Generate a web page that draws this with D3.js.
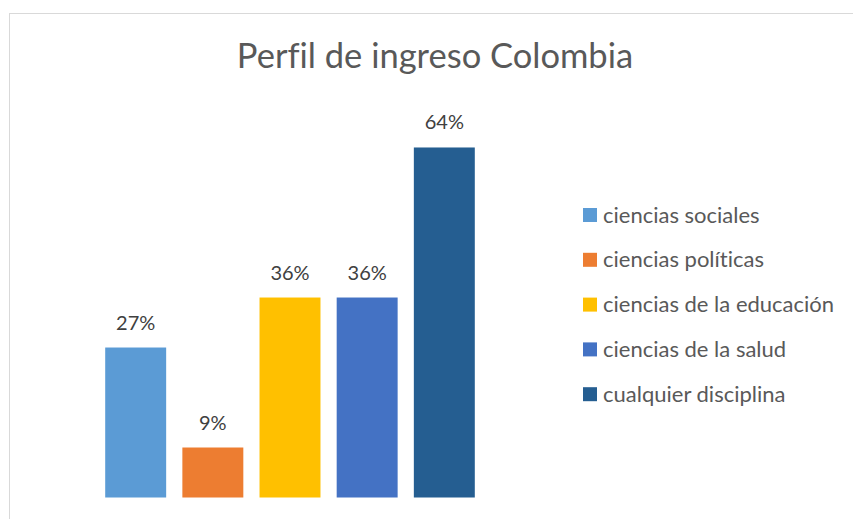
<!DOCTYPE html>
<html>
<head>
<meta charset="utf-8">
<script src="https://cdn.jsdelivr.net/npm/d3@7"></script>
<style>
  html, body { margin: 0; padding: 0; background: #fff; }
  svg { display: block; font-family: Lato, "Open Sans", sans-serif; font-variant-ligatures: none; }
</style>
</head>
<body>
<div id="chart"></div>
<script>
// Data
const categories = ["ciencias sociales", "ciencias políticas", "ciencias de la educación", "ciencias de la salud", "cualquier disciplina"];
const values = [0.2727, 0.0909, 0.3636, 0.3636, 0.6364];
const colors = ["#5B9BD5", "#ED7D31", "#FFC000", "#4472C4", "#255E91"];
const title = "Perfil de ingreso Colombia";

const data = categories.map((c, i) => ({cat: c, value: values[i], color: colors[i]}));

const width = 853, height = 519;

const svg = d3.select("#chart")
  .append("svg").attr("width", width).attr("height", height);

// chart border
svg.append("rect")
  .attr("x", 9.5).attr("y", 13.5)
  .attr("width", 900).attr("height", 600)
  .attr("fill", "#fff")
  .attr("stroke", "#d9d9d9")
  .attr("stroke-width", 1);

// title
svg.append("text")
  .attr("x", 435)
  .attr("y", 68)
  .attr("text-anchor", "middle")
  .attr("font-size", 34.5)
  .attr("fill", "#595959")
  .text(title);

const x = d3.scaleBand()
  .domain(categories)
  .range([89, 491])
  .paddingInner(0.21)
  .paddingOuter(0.21);

const y = d3.scaleLinear()
  .domain([0, 0.7])
  .range([497.5, 112.5]);

svg.selectAll("rect.bar")
  .data(data)
  .join("rect")
  .attr("class", "bar")
  .attr("x", d => x(d.cat))
  .attr("y", d => y(d.value))
  .attr("width", x.bandwidth())
  .attr("height", d => y(0) - y(d.value))
  .attr("fill", d => d.color);

const fmt = d3.format(".0%");

svg.selectAll("text.label")
  .data(data)
  .join("text")
  .attr("class", "label")
  .attr("x", d => x(d.cat) + x.bandwidth() / 2)
  .attr("y", d => y(d.value) - 18)
  .attr("text-anchor", "middle")
  .attr("font-size", 20)
  .attr("fill", "#404040")
  .text(d => fmt(d.value));

// legend
const legend = svg.append("g")
  .attr("transform", "translate(583, 215)");

const item = legend.selectAll("g")
  .data(data)
  .join("g")
  .attr("transform", (d, i) => `translate(0, ${i * 44.8})`);

item.append("rect")
  .attr("x", 0).attr("y", -7)
  .attr("width", 14).attr("height", 14)
  .attr("fill", d => d.color);

item.append("text")
  .attr("x", 20)
  .attr("y", 7.5)
  .attr("font-size", 22)
  .attr("fill", "#595959")
  .text(d => d.cat);
</script>
</body>
</html>
